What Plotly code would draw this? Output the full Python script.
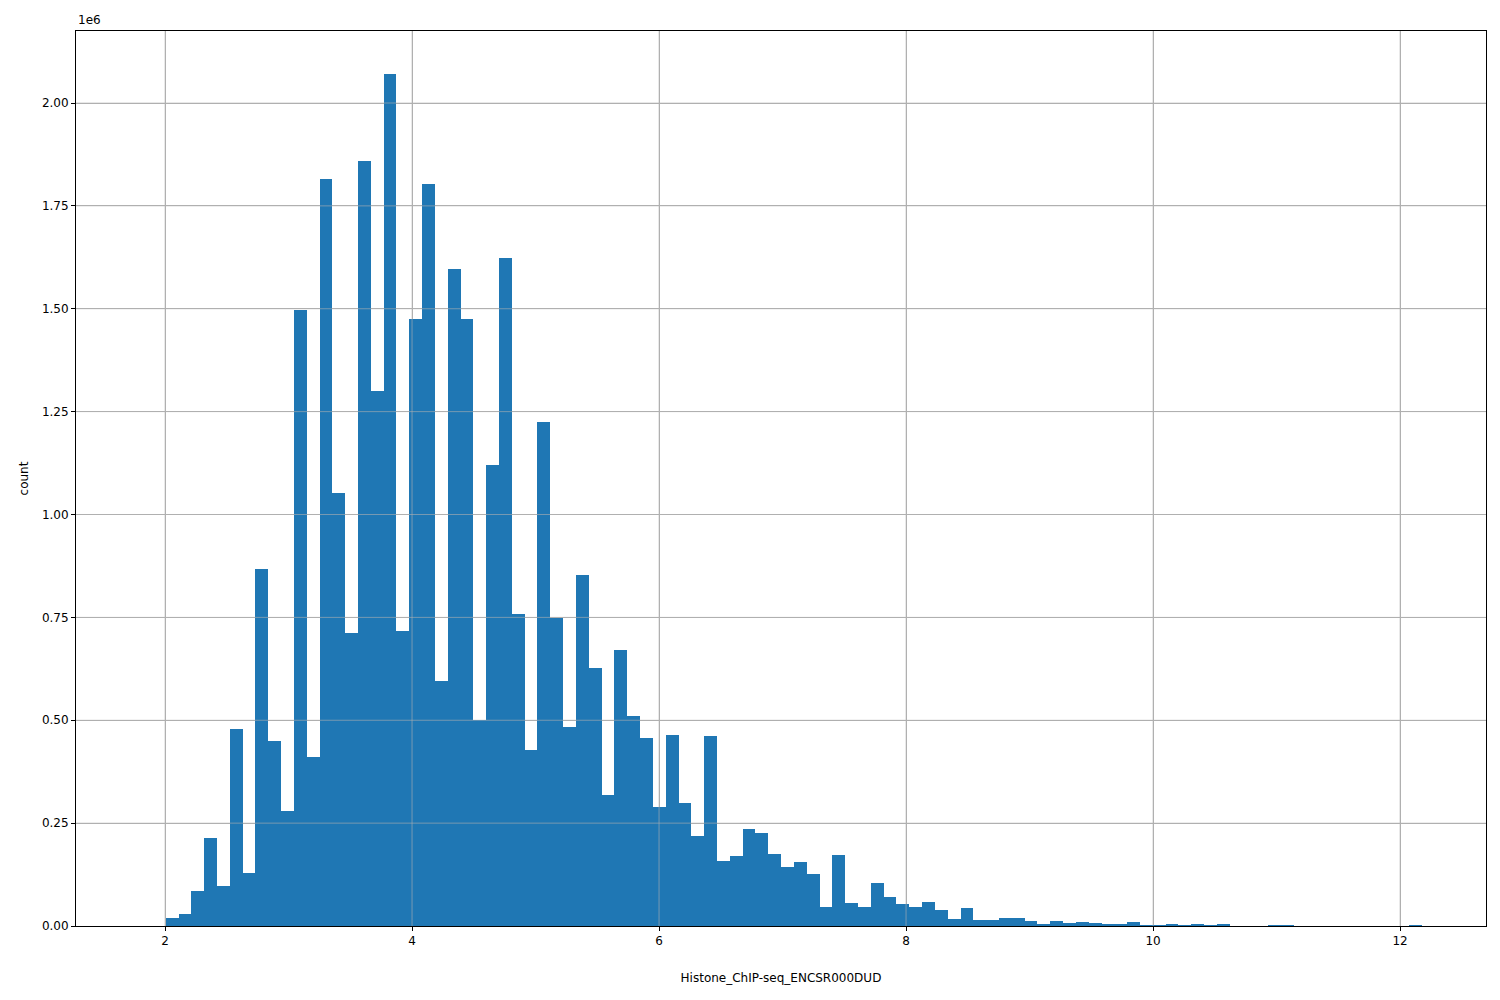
import numpy as np
import plotly.graph_objects as go

bin_start = 1.798
bin_width = 0.1038
counts_millions = [0, 0, 0.02, 0.028, 0.085, 0.215, 0.098, 0.478, 0.13, 0.868,
    0.45, 0.28, 1.498, 0.41, 1.815, 1.053, 0.713, 1.86, 1.30, 2.07,
    0.718, 1.475, 1.803, 0.595, 1.597, 1.475, 0.50, 1.12, 1.623, 0.758,
    0.428, 1.225, 0.748, 0.483, 0.852, 0.628, 0.318, 0.67, 0.51, 0.458,
    0.29, 0.465, 0.30, 0.218, 0.462, 0.158, 0.17, 0.235, 0.225, 0.175,
    0.143, 0.155, 0.127, 0.047, 0.172, 0.057, 0.045, 0.105, 0.07, 0.053,
    0.047, 0.058, 0.04, 0.017, 0.043, 0.015, 0.015, 0.02, 0.02, 0.012,
    0.005, 0.012, 0.008, 0.01, 0.008, 0.005, 0.003, 0.01, 0.001, 0.002,
    0.003, 0.002, 0.003, 0.001, 0.005, 0.0, 0.0, 0.0, 0.002, 0.002,
    0.0, 0.0, 0.0, 0.0, 0.0, 0.0, 0.0, 0.0, 0.0, 0.0001]
x_ticks = [2, 4, 6, 8, 10, 12]
y_ticks_millions = [0, 0.25, 0.5, 0.75, 1.0, 1.25, 1.5, 1.75, 2.0]
x_label = "Histone_ChIP-seq_ENCSR000DUD"
y_label = "count"

centers = bin_start + bin_width * (np.arange(len(counts_millions)) + 0.5)
counts = np.array(counts_millions) * 1e6
y_ticks = [v * 1e6 for v in y_ticks_millions]

fig = go.Figure(go.Bar(x=centers, y=counts, width=bin_width, marker=dict(color="#1f77b4", line_width=0)))
grid_col = "rgba(176,176,176,0.6)"
axis_common = dict(showgrid=True, gridcolor="#b0b0b0", gridwidth=1, showline=True, linecolor="black", mirror=True,
                   ticks="outside", ticklen=4, tickcolor="black", zeroline=False,
                   tickfont=dict(family="DejaVu Sans", size=12, color="black"))
fig.update_xaxes(range=[1.279, 12.696], tickvals=x_ticks,
                 title=dict(text=x_label, font=dict(family="DejaVu Sans", size=12, color="black"), standoff=26), **axis_common)
fig.update_yaxes(range=[0, 2.175e6], tickvals=y_ticks,
                 ticktext=[f"{v:.2f}" for v in y_ticks_millions],
                 title=dict(text=y_label, font=dict(family="DejaVu Sans", size=12, color="black"), standoff=10), **axis_common)
for xv in x_ticks:
    fig.add_shape(type="line", xref="x", yref="paper", x0=xv, x1=xv, y0=0, y1=1,
                  line=dict(color=grid_col, width=1), layer="above")
for yv in y_ticks[1:]:
    fig.add_shape(type="line", xref="paper", yref="y", x0=0, x1=1, y0=yv, y1=yv,
                  line=dict(color=grid_col, width=1), layer="above")
fig.add_annotation(text="1e6", xref="paper", yref="paper", x=0, y=1, xanchor="left", yanchor="bottom",
                   showarrow=False, font=dict(family="DejaVu Sans", size=12, color="black"), yshift=2)
fig.update_layout(width=1500, height=1000, plot_bgcolor="white", paper_bgcolor="white",
                  margin=dict(l=68, r=22, t=23, b=82), bargap=0, showlegend=False)
fig.write_html("out.html")
